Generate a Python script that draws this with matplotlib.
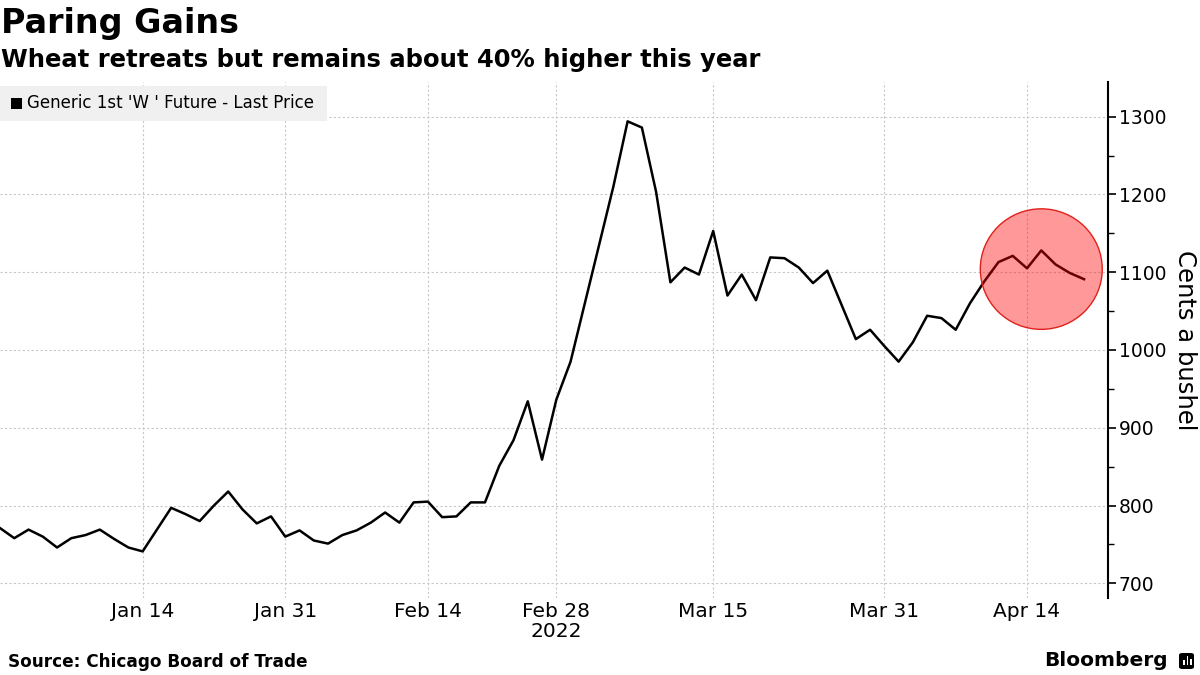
import matplotlib
matplotlib.use("Agg")
import matplotlib.pyplot as plt
from matplotlib.patches import Rectangle, Ellipse, FancyBboxPatch
import pandas as pd

# trading days (CBOT closed on these holidays)
holidays = ["2022-01-17", "2022-02-21", "2022-04-15"]
dates = [d for d in pd.bdate_range("2021-12-31", "2022-04-21")
         if d.strftime("%Y-%m-%d") not in holidays]

# cents a bushel
prices = [771, 758, 769, 760, 746, 758, 762, 769, 757, 746,
          741, 769, 797, 789, 780, 800, 818, 795, 777, 786,
          760, 768, 755, 751, 762, 768, 778, 791, 778, 804,
          805, 785, 786, 804, 804, 851, 884, 934, 859, 936,
          985, 1060, 1135, 1210, 1294, 1286, 1203, 1087, 1106, 1097,
          1153, 1070, 1097, 1064, 1119, 1118, 1106, 1086, 1102, 1058,
          1014, 1026, 1005, 985, 1010, 1044, 1041, 1026, 1060, 1088,
          1113, 1121, 1105, 1128, 1110, 1099, 1091]

tick_dates = ["2022-01-14", "2022-01-31", "2022-02-14", "2022-02-28",
              "2022-03-15", "2022-03-31", "2022-04-14"]
tick_labels = ["Jan 14", "Jan 31", "Feb 14", "Feb 28\n2022", "Mar 15", "Mar 31", "Apr 14"]
y_ticks = [700, 800, 900, 1000, 1100, 1200, 1300]

date_str = [d.strftime("%Y-%m-%d") for d in dates]
x = list(range(len(prices)))
tick_pos = [date_str.index(t) for t in tick_dates]

fig = plt.figure(figsize=(12, 6.75), dpi=100)
ax = fig.add_axes([0.0, 0.114, 0.923, 0.765])

ax.plot(x, prices, color="black", lw=1.8, zorder=3)

# highlight circle around the latest prices
circ = Ellipse((date_str.index("2022-04-18"), 1104), 8.55, 155,
               facecolor=(1, 0, 0, 0.4), edgecolor="#e0201b", lw=1.0, zorder=4)
ax.add_patch(circ)

ax.set_xlim(0, 77.65)
ax.set_ylim(681, 1345)

ax.yaxis.tick_right()
ax.yaxis.set_label_position("right")
ax.set_yticks(y_ticks)
ax.set_yticks(range(750, 1300, 100), minor=True)
ax.tick_params(axis="y", which="major", length=6, width=1.2, labelsize=13.5, pad=2)
ax.tick_params(axis="y", which="minor", length=4, width=1.0)
ax.set_ylabel("Cents a bushel", fontsize=17.5, rotation=270, labelpad=22)

ax.set_xticks(tick_pos)
ax.set_xticklabels(tick_labels, linespacing=1.05)
ax.tick_params(axis="x", length=0, labelsize=14.5, pad=3)

for s in ["top", "left", "bottom"]:
    ax.spines[s].set_visible(False)
ax.spines["right"].set_linewidth(1.5)

ax.grid(True, which="major", color="#c8c8c8", ls=(0, (2, 2)), lw=0.8)

# legend box
fig.patches.append(Rectangle((0, 1 - 121 / 675), 327 / 1200, 35 / 675,
                             transform=fig.transFigure, facecolor="#f0f0f0",
                             edgecolor="none", zorder=5))
fig.patches.append(Rectangle((11 / 1200, 1 - 109 / 675), 11 / 1200, 11 / 675,
                             transform=fig.transFigure, facecolor="black",
                             edgecolor="none", zorder=6))
fig.text(27 / 1200, 1 - 103 / 675, "Generic 1st 'W ' Future - Last Price",
         fontsize=12, va="center", ha="left", zorder=7)

fig.text(1 / 1200, 1 - 23 / 675, "Paring Gains", fontsize=24, fontweight="bold",
         va="center", ha="left")
fig.text(1 / 1200, 1 - 60 / 675, "Wheat retreats but remains about 40% higher this year",
         fontsize=17.5, fontweight="bold", va="center", ha="left")
fig.text(8 / 1200, 1 - 662 / 675, "Source: Chicago Board of Trade", fontsize=12.2,
         fontweight="bold", va="center", ha="left")
fig.text(1168 / 1200, 1 - 660 / 675, "Bloomberg", fontsize=14.5, fontweight="bold",
         va="center", ha="right")

# small logo mark
fig.patches.append(FancyBboxPatch((1179 / 1200, 1 - 669 / 675), 15 / 1200, 16 / 675,
                                  boxstyle="round,pad=0,rounding_size=0.003",
                                  transform=fig.transFigure, facecolor="black",
                                  edgecolor="none"))
for bx, bh in [(1183, 5), (1186.5, 9), (1190, 6)]:
    fig.patches.append(Rectangle((bx / 1200, 1 - 665 / 675), 1.6 / 1200, bh / 675,
                                 transform=fig.transFigure, facecolor="white",
                                 edgecolor="none"))

fig.savefig("out.png", dpi=100)
